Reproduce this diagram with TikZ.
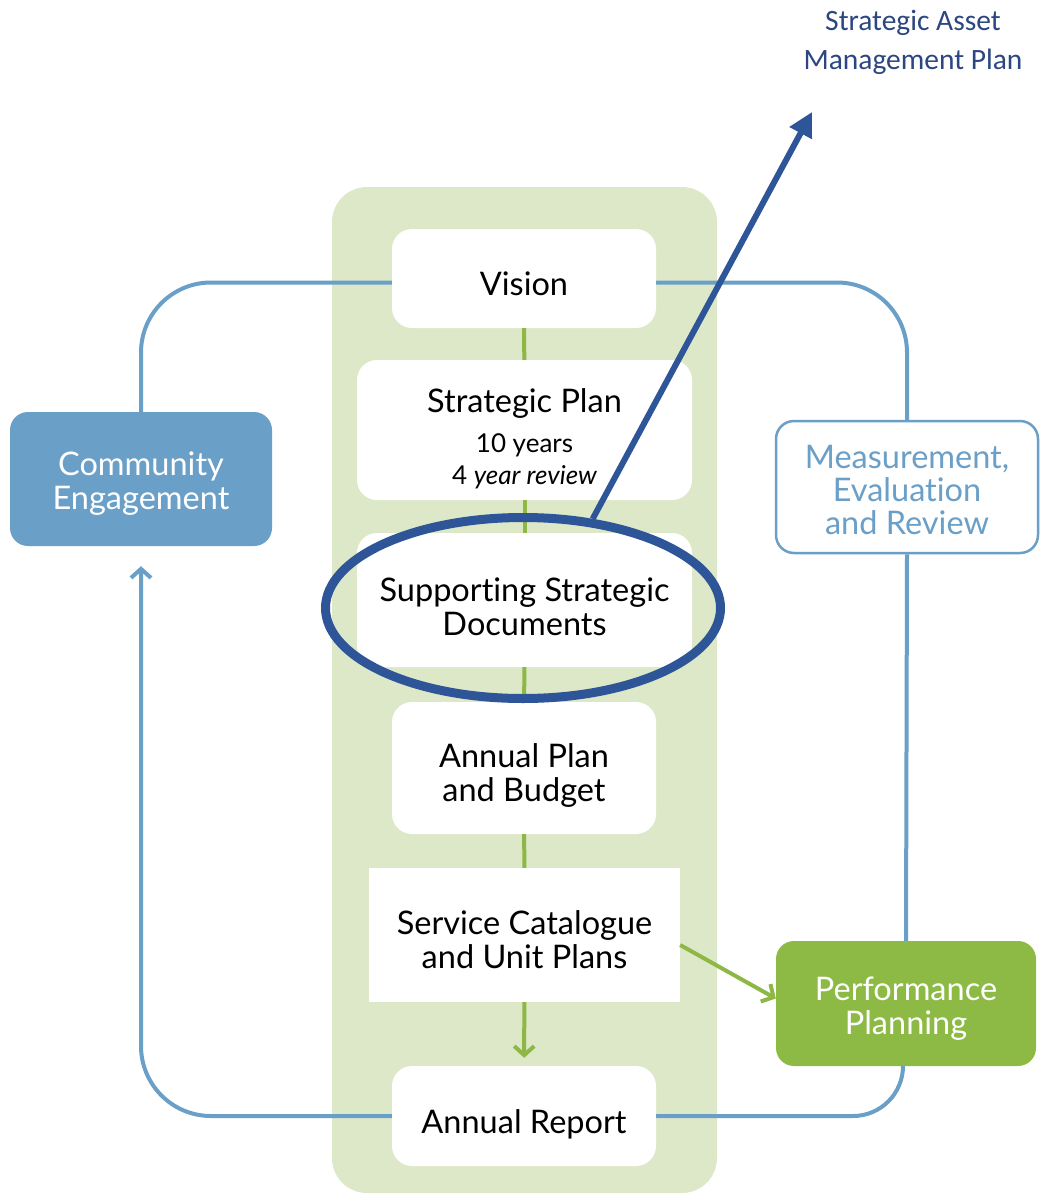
\documentclass[tikz,border=0pt]{standalone}
\usepackage{fontspec}
\setmainfont{Lato}[Ligatures=NoCommon]
\newfontfamily\calibri{Carlito}
\usetikzlibrary{arrows.meta,shapes.geometric}
\definecolor{loopblue}{HTML}{6A9FC8}
\definecolor{panelgreen}{HTML}{DDE8C9}
\definecolor{linkgreen}{HTML}{8DB845}
\definecolor{perfgreen}{HTML}{8DBA44}
\definecolor{ringblue}{HTML}{2E5597}
\definecolor{navytext}{HTML}{2B4680}
% centred lines of box text, set a little below the box centre
\newcommand{\boxtext}[2][-10pt]{\raisebox{#1}[\height][\depth]{\begin{tabular}{@{}c@{}}#2\end{tabular}}}
\begin{document}
\begin{tikzpicture}[x=1pt,y=-1pt,
  stage/.style={fill=white, rounded corners=20pt, inner sep=0pt,
    font=\fontsize{32.5}{34}\selectfont},
  sidebox/.style={rounded corners=18pt, inner sep=0pt,
    minimum width=262pt, font=\fontsize{32.5}{34}\selectfont},
  loopline/.style={draw=loopblue, line width=4pt},
  greenlink/.style={draw=linkgreen, line width=4pt},
  barb/.style={-{Straight Barb[length=9pt,width=20pt]}},
]
\useasboundingbox (0,0) rectangle (1041,1202);

% backdrop of the planning column
\node[fill=panelgreen, rounded corners=35pt, minimum width=385pt, minimum height=1006pt,
  inner sep=0pt] (panel) at (524.5,690) {};

% planning stages
\node[stage, minimum width=264pt, minimum height=99pt] (vision) at (524,278.5)
  {\boxtext{Vision}};
\node[stage, minimum width=335pt, minimum height=140pt] (strategic) at (524.5,430)
  {\boxtext[-11.5pt]{Strategic Plan\\[6pt]{\fontsize{26}{31}\selectfont 10 years}\\[-2pt]
   {\fontsize{26}{31}\selectfont 4 \itshape year review}}};
\node[stage, minimum width=335pt, minimum height=134pt] (supporting) at (524.5,600)
  {\boxtext[-12pt]{Supporting Strategic\\Documents}};
\node[stage, minimum width=264pt, minimum height=132pt] (annualplan) at (524,768)
  {\boxtext{Annual Plan\\and Budget}};
\node[stage, rounded corners=0pt, minimum width=311pt, minimum height=134pt] (service)
  at (524.5,935) {\boxtext[-9.5pt]{Service Catalogue\\and Unit Plans}};
\node[stage, minimum width=264pt, minimum height=100pt] (report) at (524,1116)
  {\boxtext[-11pt]{Annual Report}};

% side boxes
\node[sidebox, fill=loopblue, text=white, minimum height=134pt] (community)
  at (141,479) {\boxtext[-6.5pt]{Community\\Engagement}};
\node[sidebox, draw=loopblue, line width=2.5pt, fill=white, text=loopblue,
  minimum height=132pt] (measure) at (907,487)
  {\boxtext[-8pt]{Measurement,\\[-1pt]Evaluation\\[-1pt]and Review}};
\node[sidebox, fill=perfgreen, text=white, minimum width=260pt, minimum height=125pt]
  (perf) at (906,1003.5) {\boxtext[-7pt]{Performance\\Planning}};

% outer review loop
\draw[loopline, rounded corners=70pt] ([yshift=-4pt]vision.west) -| (community.north);
\draw[loopline, rounded corners=70pt] ([yshift=-4pt]vision.east) -| (measure.north);
\draw[loopline] (measure.south) -- (perf.north);
\draw[loopline, rounded corners=50pt] ([xshift=-3pt]perf.south) |- (report.east);
\draw[loopline, barb, rounded corners=70pt] (report.west) -| ([yshift=-20pt]community.south);

% links down the planning column
\draw[greenlink] (vision) -- (strategic);
\draw[greenlink] (strategic) -- (supporting);
\draw[greenlink] (supporting) -- (annualplan);
\draw[greenlink] (annualplan) -- (service);
\draw[greenlink, barb, shorten >=8pt] (service) -- (report);
\draw[greenlink, barb] ([yshift=-10pt]service.east) -- ([yshift=5pt]perf.west);

% highlight ring and pointer to the asset plan
\node[draw=ringblue, line width=9pt, ellipse, inner sep=0pt, minimum width=395pt,
  minimum height=181pt] (ring) at (523,608) {};
\node[text=navytext, align=center, font=\calibri\fontsize{29.5}{39}\selectfont]
  (samp) at (913,42) {Strategic Asset\\Management Plan};
\coordinate (samptip) at (812,112);
\draw[draw=ringblue, line width=6pt, -{Triangle[length=24pt,width=24pt]}]
  (ring.52) -- (samptip);
\end{tikzpicture}
\end{document}
